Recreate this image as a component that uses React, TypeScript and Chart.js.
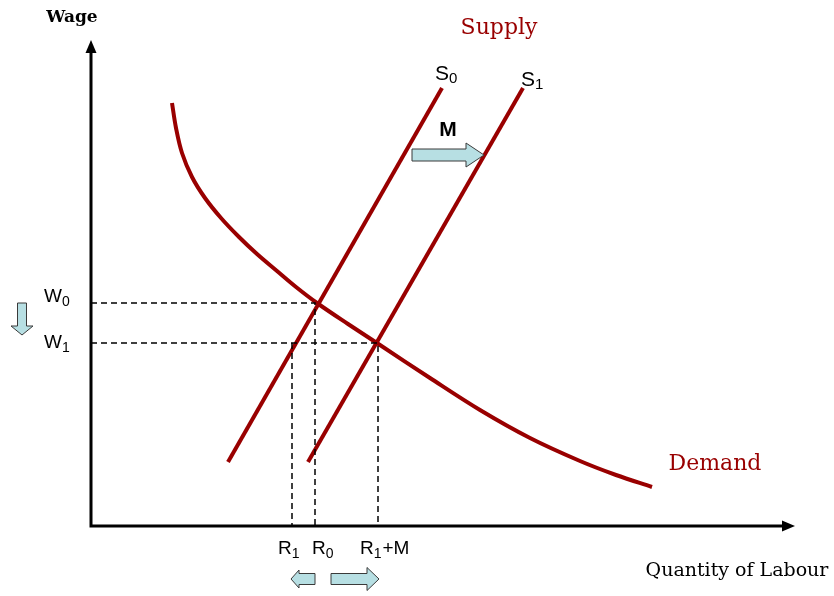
import React, { useEffect, useRef } from "react";
import { Chart, registerables } from "chart.js";

Chart.register(...registerables);

// Scales: x = quantity of labour, y = wage (arbitrary units)
const X_MAX = 704;
const Y_MAX = 486;

const DEMAND_X = [81, 85, 91, 101, 114, 130, 148, 166, 186, 205, 226, 257, 289, 339, 389, 439, 489, 525, 561];
const DEMAND_Y = [423, 398, 373, 349, 328, 308, 289, 272, 255, 239, 223, 202, 181, 148, 116, 88, 65, 51, 39];

const S0_X = [137, 351];
const S0_Y = [64, 438];
const S1_X = [217, 432];
const S1_Y = [64, 438];

const W0 = 223;
const W1 = 183;
const R1 = 201;
const R0 = 224;
const R1M = 287;

const RED = "#990000";
const ARROW_FILL = "#b7dfe3";

type Part = { t: string; sub?: boolean };
const LABELS: { x: number; y: number; parts: Part[]; font: string; color: string; align?: string }[] = [
  { x: -19, y: 508, parts: [{ t: "Wage" }], font: "bold 17px 'DejaVu Serif'", color: "#000", align: "center" },
  { x: 408, y: 498, parts: [{ t: "Supply" }], font: "22px 'DejaVu Serif'", color: RED, align: "center" },
  { x: 624, y: 62, parts: [{ t: "Demand" }], font: "22px 'DejaVu Serif'", color: RED, align: "center" },
  { x: 646, y: -45, parts: [{ t: "Quantity of Labour" }], font: "19px 'DejaVu Serif'", color: "#000", align: "center" },
  { x: 344, y: 452, parts: [{ t: "S" }, { t: "0", sub: true }], font: "21px 'Liberation Sans'", color: "#000" },
  { x: 430, y: 446, parts: [{ t: "S" }, { t: "1", sub: true }], font: "21px 'Liberation Sans'", color: "#000" },
  { x: 357, y: 396, parts: [{ t: "M" }], font: "bold 21px 'Liberation Sans'", color: "#000", align: "center" },
  { x: -47, y: 229, parts: [{ t: "W" }, { t: "0", sub: true }], font: "19px 'Liberation Sans'", color: "#000" },
  { x: -47, y: 183, parts: [{ t: "W" }, { t: "1", sub: true }], font: "19px 'Liberation Sans'", color: "#000" },
  { x: 187, y: -23, parts: [{ t: "R" }, { t: "1", sub: true }], font: "19px 'Liberation Sans'", color: "#000" },
  { x: 221, y: -23, parts: [{ t: "R" }, { t: "0", sub: true }], font: "19px 'Liberation Sans'", color: "#000" },
  { x: 269, y: -23, parts: [{ t: "R" }, { t: "1", sub: true }, { t: "+M" }], font: "19px 'Liberation Sans'", color: "#000" },
];

// block arrows: tail -> tip in data units; sizes in px
const BLOCK_ARROWS = [
  { x0: 321, y0: 371, x1: 393, y1: 371, shaft: 12, head: 24, len: 18 },
  { x0: -69, y0: 223, x1: -69, y1: 191, shaft: 9, head: 22, len: 9 },
  { x0: 224, y0: -53, x1: 200, y1: -53, shaft: 11, head: 18, len: 8 },
  { x0: 240, y0: -53, x1: 288, y1: -53, shaft: 11, head: 23, len: 12 },
];

const pts = (xs: number[], ys: number[]) => xs.map((x, i) => ({ x, y: ys[i] }));

export default function App() {
  const ref = useRef<HTMLCanvasElement>(null);
  useEffect(() => {
    if (!ref.current) return;
    const dashed = (data: { x: number; y: number }[]) => ({
      data,
      showLine: true,
      borderColor: "#000",
      borderWidth: 1.5,
      borderDash: [6, 4],
      pointRadius: 0,
      clip: false as any,
    });
    const solid = (data: { x: number; y: number }[], color: string, w: number, tension = 0) => ({
      data,
      showLine: true,
      borderColor: color,
      borderWidth: w,
      pointRadius: 0,
      tension,
      clip: false as any,
    });
    const overlay = {
      id: "overlay",
      afterDatasetsDraw(chart: any) {
        const ctx = chart.ctx;
        const xs = chart.scales.x;
        const ys = chart.scales.y;
        const px = (v: number) => xs.getPixelForValue(v);
        const py = (v: number) => ys.getPixelForValue(v);
        ctx.save();
        // axis arrow heads
        ctx.fillStyle = "#000";
        const tipY = py(Y_MAX), ax = px(0);
        ctx.beginPath();
        ctx.moveTo(ax, tipY);
        ctx.lineTo(ax - 5.5, tipY + 13);
        ctx.lineTo(ax + 5.5, tipY + 13);
        ctx.closePath();
        ctx.fill();
        const tipX = px(X_MAX), ay = py(0);
        ctx.beginPath();
        ctx.moveTo(tipX, ay);
        ctx.lineTo(tipX - 13, ay - 5.5);
        ctx.lineTo(tipX - 13, ay + 5.5);
        ctx.closePath();
        ctx.fill();
        // block arrows
        for (const a of BLOCK_ARROWS) {
          const x0 = px(a.x0), y0 = py(a.y0), x1 = px(a.x1), y1 = py(a.y1);
          const L = Math.hypot(x1 - x0, y1 - y0);
          const ux = (x1 - x0) / L, uy = (y1 - y0) / L;
          const nx = -uy, ny = ux;
          const hx = x1 - ux * a.len, hy = y1 - uy * a.len;
          const s = a.shaft / 2, h = a.head / 2;
          ctx.beginPath();
          ctx.moveTo(x0 + nx * s, y0 + ny * s);
          ctx.lineTo(hx + nx * s, hy + ny * s);
          ctx.lineTo(hx + nx * h, hy + ny * h);
          ctx.lineTo(x1, y1);
          ctx.lineTo(hx - nx * h, hy - ny * h);
          ctx.lineTo(hx - nx * s, hy - ny * s);
          ctx.lineTo(x0 - nx * s, y0 - ny * s);
          ctx.closePath();
          ctx.fillStyle = ARROW_FILL;
          ctx.fill();
          ctx.strokeStyle = "#3a3a3a";
          ctx.lineWidth = 1;
          ctx.stroke();
        }
        // labels
        ctx.textBaseline = "middle";
        for (const l of LABELS) {
          ctx.fillStyle = l.color;
          const size = parseFloat(l.font.match(/(\d+)px/)![1]);
          const subFont = l.font.replace(/\d+px/, Math.round(size * 0.72) + "px");
          let total = 0;
          for (const p of l.parts) {
            ctx.font = p.sub ? subFont : l.font;
            total += ctx.measureText(p.t).width;
          }
          let x = px(l.x) - (l.align === "center" ? total / 2 : 0);
          const y = py(l.y);
          ctx.textAlign = "left";
          for (const p of l.parts) {
            ctx.font = p.sub ? subFont : l.font;
            ctx.fillText(p.t, x, p.sub ? y + size * 0.25 : y);
            x += ctx.measureText(p.t).width + (p.sub ? 1 : 0);
          }
        }
        ctx.restore();
      },
    };
    const chart = new Chart(ref.current, {
      type: "scatter",
      data: {
        datasets: [
          dashed([{ x: 0, y: W0 }, { x: R0, y: W0 }, { x: R0, y: 0 }]),
          dashed([{ x: 0, y: W1 }, { x: R1M, y: W1 }, { x: R1M, y: 0 }]),
          dashed([{ x: R1, y: W1 }, { x: R1, y: 0 }]),
          solid(pts(DEMAND_X, DEMAND_Y), RED, 4, 0.35),
          solid(pts(S0_X, S0_Y), RED, 4),
          solid(pts(S1_X, S1_Y), RED, 4),
          solid([{ x: 0, y: Y_MAX - 12 }, { x: 0, y: 0 }, { x: X_MAX - 12, y: 0 }], "#000", 3),
        ] as any,
      },
      options: {
        animation: false,
        responsive: true,
        maintainAspectRatio: false,
        layout: { padding: { left: 91, top: 40, right: 39, bottom: 70 } },
        plugins: { legend: { display: false }, tooltip: { enabled: false } },
        scales: {
          x: { type: "linear", min: 0, max: X_MAX, display: false },
          y: { type: "linear", min: 0, max: Y_MAX, display: false },
        },
        elements: { line: { borderJoinStyle: "miter", borderCapStyle: "butt" } },
      },
      plugins: [overlay],
    });
    return () => chart.destroy();
  }, []);
  return (
    <div style={{ position: "absolute", left: 0, top: 0, width: 834, height: 596, background: "#fff" }}>
      <canvas ref={ref} />
    </div>
  );
}
